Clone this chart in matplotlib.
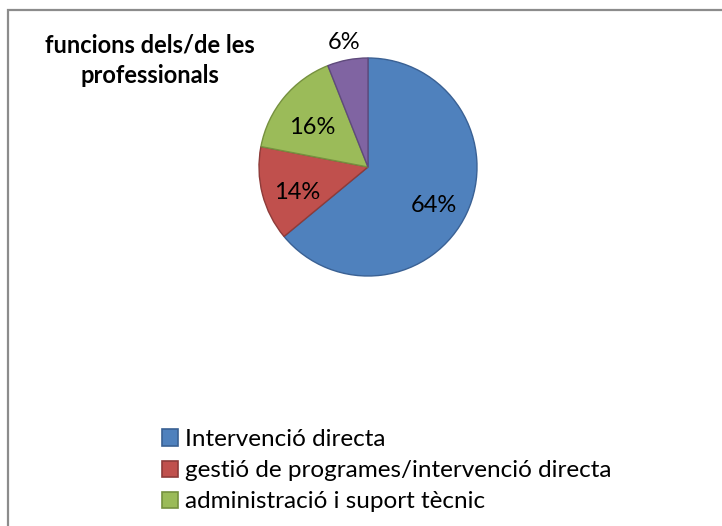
import matplotlib
matplotlib.use("Agg")
import matplotlib.pyplot as plt
import matplotlib.transforms as mtransforms
from matplotlib.patches import Rectangle
import numpy as np

plt.rcParams['font.family'] = ['Lato', 'DejaVu Sans']

title = "funcions dels/de les\nprofessionals"
categories = ["Intervenció directa",
              "gestió de programes/intervenció directa",
              "administració i suport tècnic",
              ""]
values = [64, 14, 16, 6]
colors = ["#4F81BD", "#C0504D", "#9BBB59", "#8064A2"]
edges = ["#3A6194", "#8E3B39", "#76913F", "#5F4A7C"]

W, H = 722, 526
fig = plt.figure(figsize=(W/100, H/100), dpi=100)

# outer frame (only top and left visible)
fig.patches.append(Rectangle((8/W, -0.5), 1.5, 0.5 + (H-10)/H, transform=fig.transFigure,
                             fill=False, edgecolor="#8C8C8C", linewidth=1.6, clip_on=False))

cx, cy, r = 368, 167, 109
ax = fig.add_axes([(cx-r)/W, (H-cy-r)/H, 2*r/W, 2*r/H])

wedges, texts, autotexts = ax.pie(values, colors=colors, startangle=90, counterclock=False,
                                  autopct=lambda p: f"{p:.0f}%", pctdistance=0.67, radius=1,
                                  wedgeprops=dict(linewidth=1.0), textprops=dict(fontsize=17, color="black"))
ax.set_xlim(-1, 1); ax.set_ylim(-1, 1); ax.set_aspect('equal'); ax.axis('off')
for w, ec in zip(wedges, edges):
    w.set_edgecolor(ec)
down = mtransforms.ScaledTranslation(0, -7/100, fig.dpi_scale_trans)
for w, t, v in zip(wedges, autotexts, values):
    t.set_clip_on(False)
    if v < 10:
        ang = np.deg2rad((w.theta1 + w.theta2) / 2)
        t.set_position((1.16*np.cos(ang), 1.16*np.sin(ang)))
    else:
        t.set_transform(t.get_transform() + down)

fig.text(150/W, 1 - 60/H, title, ha="center", va="center", fontsize=17, fontweight="bold",
         linespacing=1.4)

handles = [Rectangle((0, 0), 1, 1, facecolor=c, edgecolor=e, linewidth=1.2)
           for c, e in zip(colors[:3], edges[:3])]
fig.legend(handles, categories[:3], loc="upper left", bbox_to_anchor=(162/W, 1 - 429/H),
           frameon=False, fontsize=17.5, handlelength=0.65, handleheight=0.65,
           handletextpad=0.3, labelspacing=0.42, borderpad=0, borderaxespad=0)

fig.savefig("out.png", dpi=100)
